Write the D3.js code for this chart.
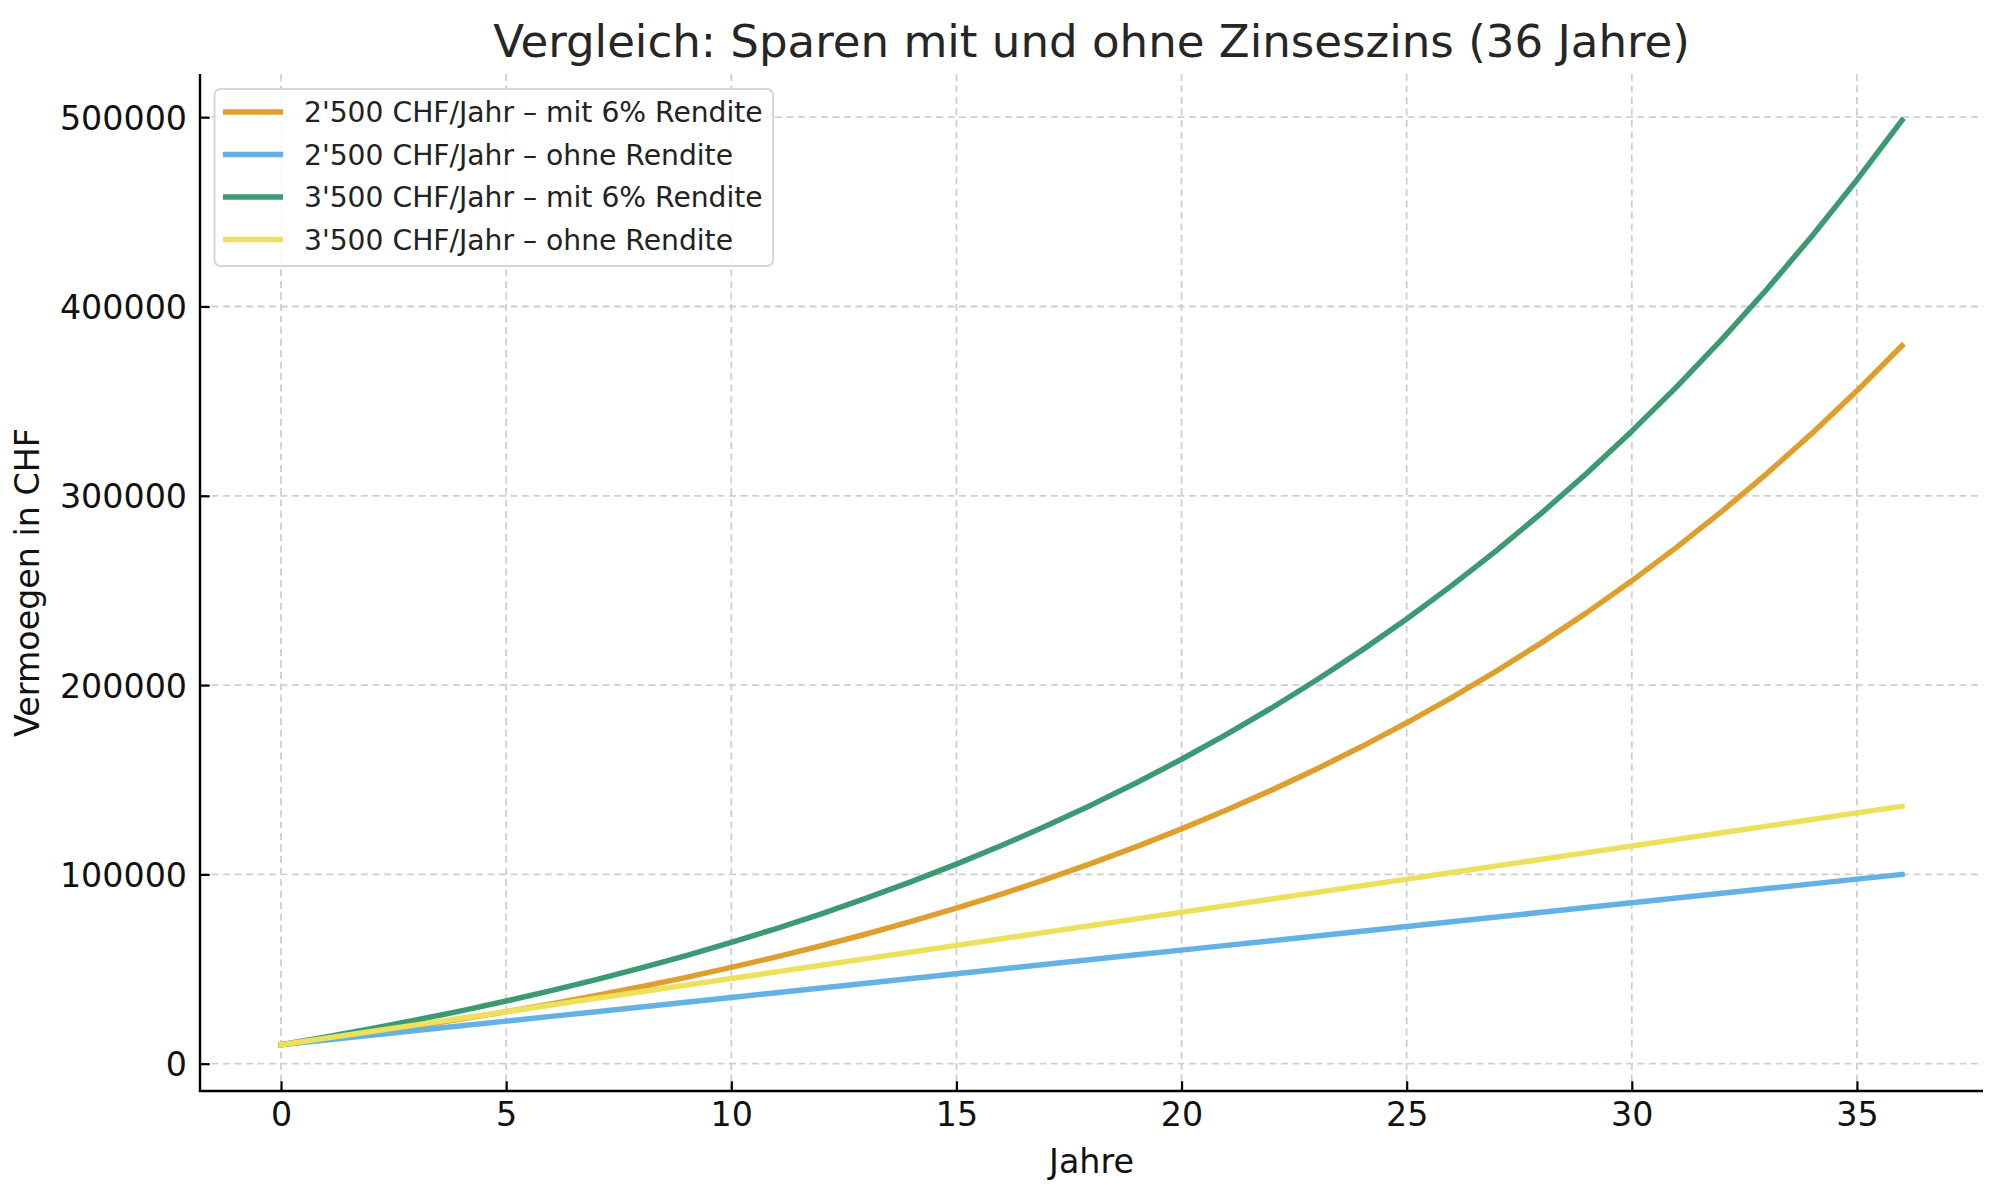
<!DOCTYPE html>
<html>
<head>
<meta charset="utf-8">
<script src="https://cdn.jsdelivr.net/npm/d3@7"></script>
<style>
  html, body { margin: 0; padding: 0; background: #fff; }
  svg { display: block; font-family: "DejaVu Sans", sans-serif; }
</style>
</head>
<body>
<svg id="chart" width="2000" height="1200"></svg>
<script>
// ---- data ----
const years = [0,1,2,3,4,5,6,7,8,9,10,11,12,13,14,15,16,17,18,19,20,21,22,23,24,25,26,27,28,29,30,31,32,33,34,35,36];

const s2500mit = [10000,13100,16386,19869,23561,27475,31623,36021,40682,45623,50860,56412,62297,68535,75147,82155,89585,97460,105808,114656,124035,133977,144516,155687,167528,180080,193385,207488,222437,238283,255080,272885,291758,311764,332970,355448,379275];
const s2500ohne = [10000,12500,15000,17500,20000,22500,25000,27500,30000,32500,35000,37500,40000,42500,45000,47500,50000,52500,55000,57500,60000,62500,65000,67500,70000,72500,75000,77500,80000,82500,85000,87500,90000,92500,95000,97500,100000];
const s3500mit = [10000,14100,18446,23053,27936,33112,38599,44415,50580,57114,64041,71384,79167,87417,96162,105431,115257,125673,136713,148416,160821,173970,187908,202683,218344,234944,252541,271193,290965,311923,334139,357687,382648,409107,437153,466883,498396];
const s3500ohne = [10000,13500,17000,20500,24000,27500,31000,34500,38000,41500,45000,48500,52000,55500,59000,62500,66000,69500,73000,76500,80000,83500,87000,90500,94000,97500,101000,104500,108000,111500,115000,118500,122000,125500,129000,132500,136000];

const seriesNames = [
  "2'500 CHF/Jahr \u2013 mit 6% Rendite",
  "2'500 CHF/Jahr \u2013 ohne Rendite",
  "3'500 CHF/Jahr \u2013 mit 6% Rendite",
  "3'500 CHF/Jahr \u2013 ohne Rendite"
];
const seriesValues = [s2500mit, s2500ohne, s3500mit, s3500ohne];
const seriesColors = ["#DE9F2C", "#64B1E6", "#3B9A72", "#EDE05A"];

const xTicks = [0,5,10,15,20,25,30,35];
const yTicks = [0,100000,200000,300000,400000,500000];

const titleText = "Vergleich: Sparen mit und ohne Zinseszins (36 Jahre)";
const xLabelText = "Jahre";
const yLabelText = "Vermoegen in CHF";

// ---- layout ----
const L = 200, R = 1983, T = 74, B = 1091;
const svg = d3.select("#chart");

const allVals = seriesValues.flat();
const yMin = d3.min(allVals), yMax = d3.max(allVals);
const yPad = (yMax - yMin) * 0.05;
const xMin = d3.min(years), xMax = d3.max(years);
const xPad = (xMax - xMin) * 0.05;

const x = d3.scaleLinear().domain([xMin - xPad, xMax + xPad]).range([L, R]);
const y = d3.scaleLinear().domain([yMin - yPad, yMax + yPad]).range([B, T]);

// grid
const grid = svg.append("g");
grid.selectAll("line.gx").data(xTicks).join("line")
  .attr("x1", d => x(d)).attr("x2", d => x(d))
  .attr("y1", T).attr("y2", B)
  .attr("stroke", "#cfcfcf").attr("stroke-width", 1.8)
  .attr("stroke-dasharray", "7,4.5");
grid.selectAll("line.gy").data(yTicks).join("line")
  .attr("y1", d => y(d)).attr("y2", d => y(d))
  .attr("x1", L).attr("x2", R)
  .attr("stroke", "#cfcfcf").attr("stroke-width", 1.8)
  .attr("stroke-dasharray", "7,4.5");

// lines
const line = d3.line().x((d, i) => x(years[i])).y(d => y(d));
svg.append("g").selectAll("path").data(seriesValues).join("path")
  .attr("d", d => line(d))
  .attr("fill", "none")
  .attr("stroke", (d, i) => seriesColors[i])
  .attr("stroke-width", 5.5)
  .attr("stroke-linejoin", "round")
  .attr("stroke-linecap", "square");

// axes (inward ticks + labels)
const xAxis = d3.axisBottom(x).tickValues(xTicks).tickSizeInner(-9.7).tickSizeOuter(0).tickPadding(0).tickFormat(d3.format("d"));
const yAxis = d3.axisLeft(y).tickValues(yTicks).tickSizeInner(-9.7).tickSizeOuter(0).tickPadding(0).tickFormat(d3.format("d"));

const gx = svg.append("g").attr("transform", `translate(0,${B})`).call(xAxis);
gx.select(".domain").remove();
gx.selectAll(".tick line").attr("stroke", "#000").attr("stroke-width", 2.2);
gx.selectAll(".tick text").attr("y", 35).attr("dy", null)
  .attr("font-size", 33.3).attr("fill", "#111").attr("font-family", "DejaVu Sans");

const gy = svg.append("g").attr("transform", `translate(${L},0)`).call(yAxis);
gy.select(".domain").remove();
gy.selectAll(".tick line").attr("stroke", "#000").attr("stroke-width", 2.2);
gy.selectAll(".tick text").attr("x", -13).attr("dy", null).attr("y", 12)
  .attr("font-size", 33.3).attr("fill", "#111").attr("font-family", "DejaVu Sans");

// spines
svg.append("line").attr("x1", L).attr("x2", L).attr("y1", T).attr("y2", B + 1.1)
  .attr("stroke", "#000").attr("stroke-width", 2.4);
svg.append("line").attr("x1", L - 1.1).attr("x2", R).attr("y1", B).attr("y2", B)
  .attr("stroke", "#000").attr("stroke-width", 2.4);

// title and labels
svg.append("text").attr("x", (L + R) / 2).attr("y", 57)
  .attr("text-anchor", "middle").attr("font-size", 45.1).attr("fill", "#262626")
  .text(titleText);
svg.append("text").attr("x", (L + R) / 2).attr("y", 1173)
  .attr("text-anchor", "middle").attr("font-size", 33.3).attr("fill", "#111")
  .text(xLabelText);
svg.append("text").attr("transform", `translate(39,${(T + B) / 2}) rotate(-90)`)
  .attr("text-anchor", "middle").attr("font-size", 33.3).attr("fill", "#111")
  .text(yLabelText);

// legend
const lg = svg.append("g");
lg.append("rect").attr("x", 214.5).attr("y", 89).attr("width", 558.5).attr("height", 177)
  .attr("rx", 6).attr("ry", 6)
  .attr("fill", "#fff").attr("fill-opacity", 0.85)
  .attr("stroke", "#d6d6d6").attr("stroke-width", 2);
const rowY = [112, 154.5, 197, 239.5];
const rows = lg.selectAll("g.row").data(seriesNames).join("g")
  .attr("transform", (d, i) => `translate(0,${rowY[i]})`);
rows.append("line").attr("x1", 223).attr("x2", 283).attr("y1", 0).attr("y2", 0)
  .attr("stroke", (d, i) => seriesColors[i]).attr("stroke-width", 5.5);
rows.append("text").attr("x", 304).attr("y", 10)
  .attr("font-size", 28.2).attr("fill", "#222")
  .text(d => d);
</script>
</body>
</html>
